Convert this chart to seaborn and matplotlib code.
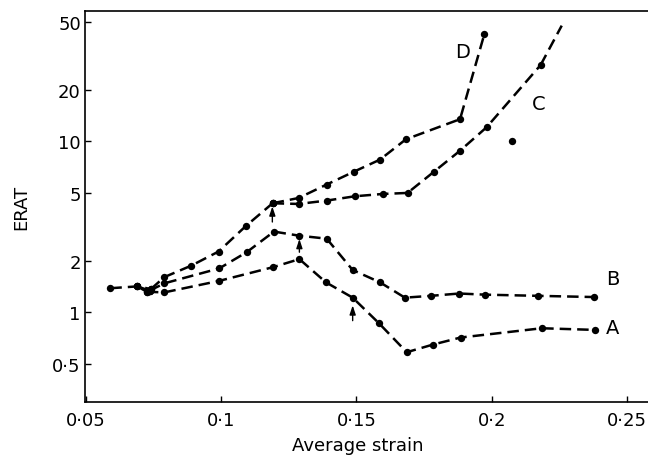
import matplotlib
matplotlib.use("Agg")
import matplotlib.pyplot as plt
import seaborn as sns
import numpy as np
import pandas as pd

# ---- data ----
common_x = [0.059, 0.069]
common_y = [1.385, 1.42]

dc_x = [0.074, 0.079, 0.089, 0.099, 0.109, 0.119]
dc_y = [1.37, 1.61, 1.88, 2.27, 3.19, 4.35]

d_x = [0.1286, 0.139, 0.1491, 0.1587, 0.1683, 0.1883, 0.1973]
d_y = [4.67, 5.6, 6.66, 7.83, 10.3, 13.5, 42.5]

c_x = [0.1286, 0.139, 0.1494, 0.1597, 0.1689, 0.1787, 0.1883, 0.1981, 0.2181]
c_y = [4.31, 4.51, 4.78, 4.93, 5.0, 6.66, 8.83, 12.1, 28.0]
c_tail_x = [0.2181, 0.2259]
c_tail_y = [28.0, 47.6]

b_x = [0.0735, 0.079, 0.0993, 0.1094, 0.1195, 0.1289, 0.139, 0.1486,
       0.1587, 0.1679, 0.1775, 0.188, 0.1976, 0.2173, 0.2378]
b_y = [1.34, 1.48, 1.81, 2.25, 2.97, 2.81, 2.70, 1.77,
       1.50, 1.22, 1.25, 1.29, 1.27, 1.25, 1.23]

a_x = [0.0725, 0.079, 0.0993, 0.1192, 0.1289, 0.1387, 0.1486, 0.1583,
       0.1686, 0.1782, 0.1885, 0.2185, 0.2383]
a_y = [1.32, 1.31, 1.53, 1.84, 2.05, 1.50, 1.22, 0.865,
       0.585, 0.648, 0.713, 0.808, 0.79]

extra_x = [0.2075]
extra_y = [10.1]

arrow_x = [0.1189, 0.1289, 0.1486]
arrow_tail_y = [3.38, 2.25, 0.895]
arrow_head_y = [4.17, 2.69, 1.10]

curve_labels = ["D", "C", "B", "A"]
label_x = [0.1894, 0.2175, 0.2448, 0.2448]
label_y = [33.4, 16.6, 1.57, 0.82]

xticks = [0.05, 0.1, 0.15, 0.2, 0.25]
xtick_labels = ["0·05", "0·1", "0·15", "0·2", "0·25"]
yticks = [0.5, 1, 2, 5, 10, 20, 50]
ytick_labels = ["0·5", "1", "2", "5", "10", "20", "50"]

# ---- figure ----
sns.set_theme(style="white")
plt.rcParams["font.family"] = ["DejaVu Sans"]

fig = plt.figure(figsize=(6.48, 4.56), dpi=100)
ax = fig.add_axes([85 / 648, 1 - 403.3 / 456, 1 - 85 / 648, (403.3 - 11.7) / 456])

ls = (0, (4.6, 2.4))
line_kw = dict(color="black", linewidth=1.8, linestyle=ls, marker="o",
               markersize=5.3, markeredgecolor="black", markeredgewidth=0,
               estimator=None, sort=False, legend=False)

def seg(xs, ys, **extra):
    kw = dict(line_kw)
    kw.update(extra)
    sns.lineplot(x=xs, y=ys, ax=ax, **kw)

seg(common_x + dc_x[:1], common_y + dc_y[:1])
seg(common_x[-1:] + b_x[:1], common_y[-1:] + b_y[:1])
seg(common_x[-1:] + a_x[:1], common_y[-1:] + a_y[:1])
seg(dc_x, dc_y)
seg(dc_x[-1:] + d_x, dc_y[-1:] + d_y)
seg(dc_x[-1:] + c_x, dc_y[-1:] + c_y)
seg(c_tail_x, c_tail_y, marker=None)
seg(b_x, b_y)
seg(a_x, a_y)

sns.scatterplot(x=extra_x, y=extra_y, ax=ax, color="black", s=28,
                linewidth=0, legend=False)

for xa, yt, yh in zip(arrow_x, arrow_tail_y, arrow_head_y):
    ax.annotate("", xy=(xa, yh), xytext=(xa, yt),
                arrowprops=dict(arrowstyle="-|>,head_length=0.45,head_width=0.15",
                                color="black", lw=1.0, shrinkA=0, shrinkB=0))

for lab, lx, ly in zip(curve_labels, label_x, label_y):
    ax.text(lx, ly, lab, fontsize=14, ha="center", va="center", color="black")

ax.set_yscale("log")
ax.set_xlim(0.04963, 0.2578)
ax.set_ylim(0.298, 58.2)
ax.set_xticks(xticks)
ax.set_xticklabels(xtick_labels)
ax.set_yticks(yticks)
ax.set_yticklabels(ytick_labels)
ax.minorticks_off()
ax.yaxis.set_minor_locator(matplotlib.ticker.NullLocator())

ax.tick_params(direction="in", length=4.5, width=1.0, labelsize=13,
               colors="black", pad=3)
ax.tick_params(axis="x", pad=6)
ax.tick_params(left=True, bottom=True)

for side in ["left", "bottom", "top"]:
    ax.spines[side].set_visible(True)
    ax.spines[side].set_color("black")
    ax.spines[side].set_linewidth(1.2)
ax.spines["right"].set_visible(False)

ax.set_xlabel("Average strain", fontsize=13, color="black")
ax.set_ylabel("ERAT", fontsize=13, color="black")
ax.xaxis.set_label_coords(0.485, -0.085)
ax.yaxis.set_label_coords(-0.098, 0.5)

fig.savefig("out.png", dpi=100, facecolor="white")
